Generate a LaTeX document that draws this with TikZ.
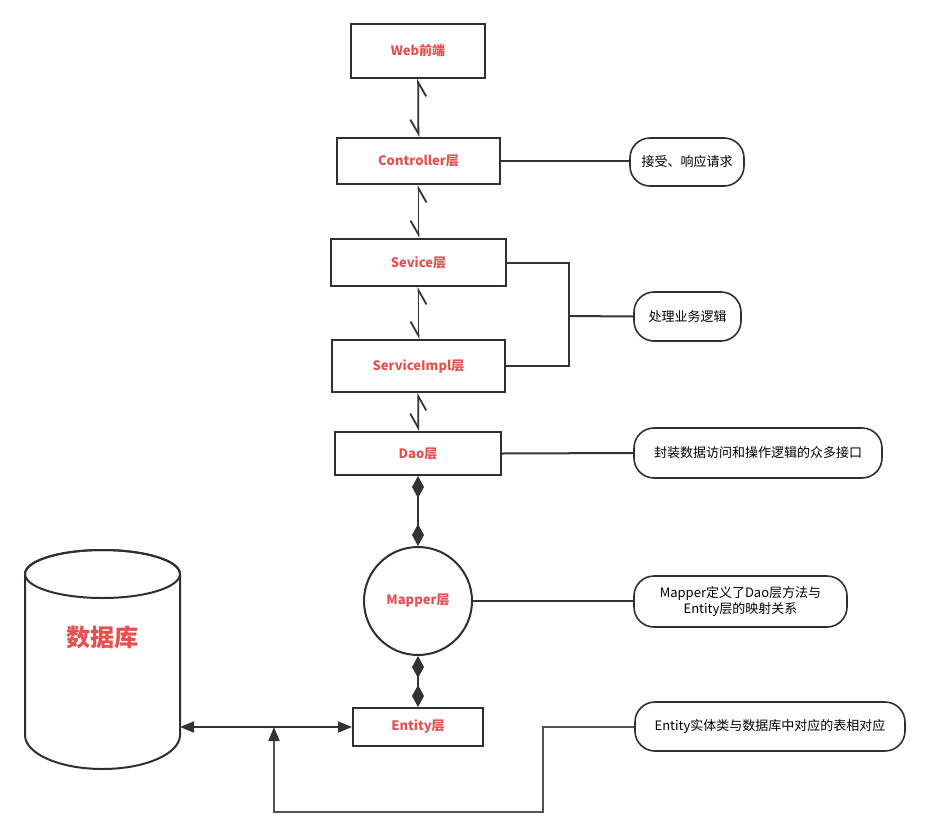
\documentclass[tikz,border=0pt]{standalone}
\usepackage{fontspec}
\setmainfont{Noto Sans CJK SC}
\usepackage{xcolor}
\usetikzlibrary{arrows.meta, positioning}

\definecolor{labelred}{RGB}{232,80,80}
\definecolor{edge}{RGB}{43,47,54}
\definecolor{wire}{RGB}{51,51,51}

\begin{document}
\begin{tikzpicture}[
  x=1pt, y=-1pt,
  layer/.style={rectangle, draw=edge, line width=2pt, fill=white, inner sep=0pt,
                text=labelred, font=\fontsize{13}{15}\selectfont\bfseries},
  note/.style={rectangle, draw=edge, line width=1.6pt, rounded corners=20pt,
               inner sep=0pt, minimum height=49pt, align=center,
               font=\fontsize{13}{16}\selectfont},
  harp/.style={{Straight Barb[harpoon,swap,length=14pt,width=16pt]}-{Straight Barb[harpoon,swap,length=14pt,width=16pt]},
               draw=wire, line width=1.8pt},
  gem/.style={{Diamond[length=22pt,width=12pt]}-{Diamond[length=22pt,width=12pt]},
              draw=wire, line width=1.5pt},
  link/.style={draw=wire, line width=2pt},
  tri/.style={{Triangle[length=14pt,width=11pt]}-{Triangle[length=14pt,width=11pt]},
              draw=wire, line width=2pt}
]
\useasboundingbox (0,0) rectangle (927,838);

% layers
\node[layer, minimum width=134pt, minimum height=54pt] (web) at (418,51) {Web前端};
\node[layer, minimum width=163pt, minimum height=46pt] (ctrl) at (418.5,161) {Controller层};
\node[layer, minimum width=175pt, minimum height=47pt] (sev) at (418.5,262.5) {Sevice层};
\node[layer, minimum width=173pt, minimum height=52pt] (impl) at (418.5,366) {ServiceImpl层};
\node[layer, minimum width=166pt, minimum height=43pt] (dao) at (418,453.5) {Dao层};
\node[layer, circle, minimum size=108pt] (mapper) at (418,601) {Mapper层};
\node[layer, minimum width=130pt, minimum height=38pt] (entity) at (418,727) {Entity层};

% database
\draw[draw=edge, line width=2pt, fill=white]
  (25,574) -- (25,735) arc[start angle=180, end angle=360, x radius=77.5pt, y radius=34pt]
  -- (180,574) arc[start angle=0, end angle=180, x radius=77.5pt, y radius=24pt];
\draw[draw=edge, line width=2pt] (102.5,574) ellipse[x radius=77.5pt, y radius=24pt];
\node[text=labelred, font=\fontsize{24}{26}\selectfont\bfseries] (db) at (102.5,637) {数据库};
\coordinate (dbR) at (180,727);

% notes
\node[note, minimum width=114pt, minimum height=48pt] (n1) at (687,162) {接受、响应请求};
\node[note, minimum width=107pt] (n2) at (687.5,316.5) {处理业务逻辑};
\node[note, minimum width=248pt, minimum height=50pt] (n3) at (758,453) {封装数据访问和操作逻辑的众多接口};
\node[note, minimum width=213pt, minimum height=51pt] (n4) at (740.5,601.5) {Mapper定义了Dao层方法与\\Entity层的映射关系};
\node[note, minimum width=270pt] (n5) at (770,726.5) {Entity实体类与数据库中对应的表相对应};

% layer to layer
\draw[harp] (web) -- (ctrl);
\draw[harp] (ctrl) -- (sev);
\draw[harp] (sev) -- (impl);
\draw[harp] (impl) -- (dao);
\draw[gem] (dao) -- (mapper);
\draw[gem] (mapper) -- (entity);
\draw[tri] (dbR) -- (entity);

% notes to layers
\coordinate (fork) at (569,316);
\draw[link] (ctrl.east) -- (ctrl.east -| n1.west);
\draw[link] (sev.east) -| (fork) |- (impl.east);
\draw[link] (fork) -- (n2.west);
\draw[link] (dao.east) -- (n3.west);
\draw[link] (mapper.east) -- (mapper.east -| n4.west);
\coordinate (bend) at (543,812);
\coordinate (hit) at (274,727);
\draw[link, draw=wire!85, -{Triangle[length=14pt,width=11pt,fill=wire,color=wire]}] (n5.west) -| (bend) -| (hit);
\end{tikzpicture}
\end{document}
